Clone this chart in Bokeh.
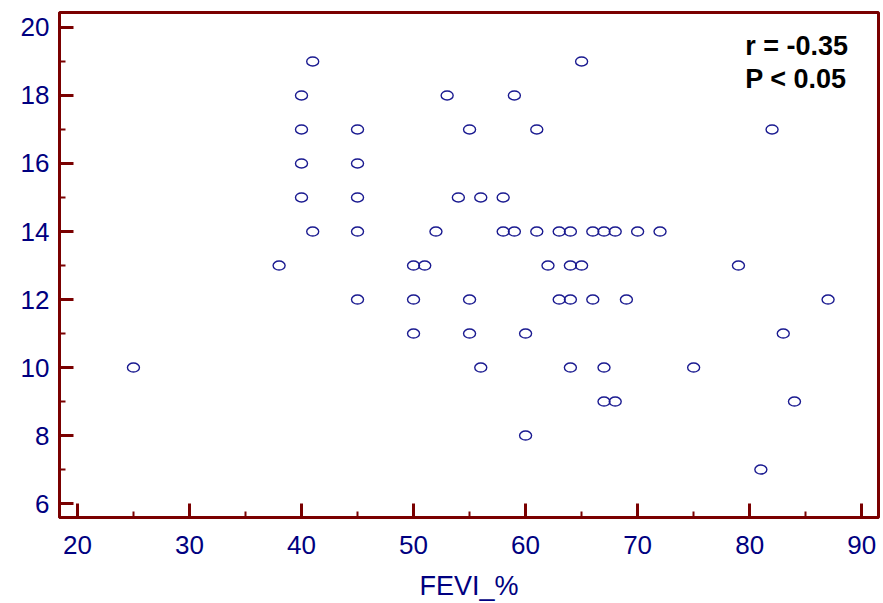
from bokeh.plotting import figure
from bokeh.models import SingleIntervalTicker, Range1d, Label, ColumnDataSource
from bokeh.embed import file_html
from bokeh.resources import INLINE

fevi = [25, 38, 40, 40, 40, 40, 41, 41, 45, 45, 45, 45, 45,
        50, 50, 50, 51, 52, 53, 54, 55, 55, 55, 56, 56, 58, 58,
        59, 59, 60, 60, 61, 61, 62, 63, 63, 64, 64, 64, 64, 65, 65,
        66, 66, 67, 67, 67, 68, 68, 69, 70, 72, 75, 79, 81, 82, 83, 84, 87]
yval = [10, 13, 18, 17, 16, 15, 19, 14, 17, 16, 15, 14, 12,
        13, 12, 11, 13, 14, 18, 15, 17, 12, 11, 15, 10, 15, 14,
        18, 14, 11, 8, 17, 14, 13, 14, 12, 14, 13, 12, 10, 19, 13,
        14, 12, 14, 10, 9, 14, 9, 12, 14, 14, 10, 13, 7, 17, 11, 9, 12]
x_label = "FEVI_%"
stat_lines = ["r = -0.35", "P < 0.05"]

AXIS = "#7a0000"
NAVY = "#000080"
PT = "#1a1a90"

p = figure(width=883, height=603, output_backend="svg", toolbar_location=None,
           x_range=Range1d(18.4, 91.5), y_range=Range1d(5.59, 20.44),
           min_border_left=59, min_border_top=12, min_border_right=5, min_border_bottom=85)
p.background_fill_color = "white"
p.border_fill_color = "white"
p.grid.visible = False
p.outline_line_color = AXIS
p.outline_line_width = 3
p.outline_line_alpha = 1

src = ColumnDataSource(dict(x=fevi, y=yval))
p.ellipse(x="x", y="y", width=12, height=9, width_units="screen", height_units="screen",
          source=src, fill_color=None, line_color=PT, line_width=1.4)

for ax in (p.xaxis[0], p.yaxis[0]):
    ax.axis_line_color = AXIS
    ax.axis_line_width = 3
    ax.major_tick_line_color = AXIS
    ax.minor_tick_line_color = AXIS
    ax.major_tick_line_width = 3
    ax.minor_tick_line_width = 2
    ax.major_tick_in = 14
    ax.major_tick_out = 0
    ax.minor_tick_in = 6
    ax.minor_tick_out = 0
    ax.major_label_text_color = NAVY
    ax.major_label_text_font = "Liberation Sans"
    ax.major_label_text_font_size = "26px"

p.xaxis.ticker = SingleIntervalTicker(interval=10, num_minor_ticks=2)
p.yaxis.ticker = SingleIntervalTicker(interval=2, num_minor_ticks=2)
p.xaxis.major_label_standoff = 18
p.yaxis.major_label_standoff = 10
p.xaxis.axis_label = x_label
p.xaxis.axis_label_text_font = "Liberation Sans"
p.xaxis.axis_label_text_font_style = "normal"
p.xaxis.axis_label_text_font_size = "27px"
p.xaxis.axis_label_text_color = NAVY
p.xaxis.axis_label_standoff = 14

for i, t in enumerate(stat_lines):
    p.add_layout(Label(x=79.6, y=19.9 - i * 0.98, text=t, text_font="Liberation Sans Narrow, Liberation Sans",
                       text_font_style="bold", text_font_size="27px", text_color="black",
                       text_baseline="top", text_align="left"))

open("out.html", "w").write(file_html(p, INLINE))
